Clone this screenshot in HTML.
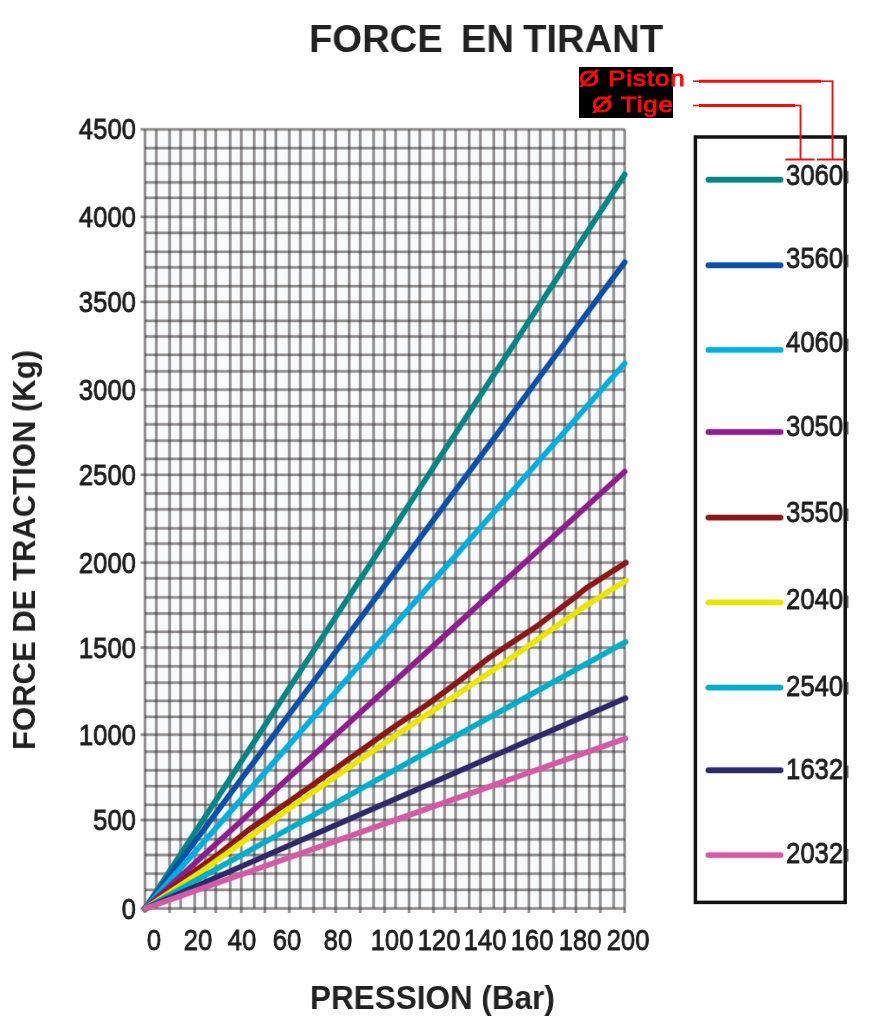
<!DOCTYPE html>
<html><head><meta charset="utf-8">
<style>
html,body{margin:0;padding:0;background:#fff;}
body{width:871px;height:1024px;position:relative;overflow:hidden;font-family:"Liberation Sans",sans-serif;}
.title,.xt,.yt,.yl,.xl,.lt,.tg{will-change:transform;}
.chart{position:absolute;left:0;top:0;}
.title{position:absolute;left:309px;top:17px;font-weight:bold;font-size:39px;line-height:44px;color:#222;white-space:pre;word-spacing:-1.6px;transform:scaleX(0.98);transform-origin:0 0;}
.xt{position:absolute;left:309.5px;top:979px;font-weight:bold;font-size:33.3px;line-height:38px;color:#222;white-space:pre;transform:scaleX(0.945);transform-origin:0 0;}
.yt{position:absolute;left:0;top:0;font-weight:bold;font-size:32px;line-height:36px;color:#222;white-space:pre;transform-origin:0 0;transform:translate(6px,750px) rotate(-90deg) scaleX(0.97);}
.yl{position:absolute;left:36px;width:100px;text-align:right;font-size:29.5px;line-height:32px;color:#1e1e1e;-webkit-text-stroke:0.85px #1e1e1e;transform:scaleX(0.87);transform-origin:100% 50%;}
.xl{position:absolute;top:924px;width:80px;text-align:center;font-size:29.5px;line-height:32px;color:#1e1e1e;-webkit-text-stroke:0.85px #1e1e1e;transform:scaleX(0.87);}
.lt{position:absolute;left:786px;font-size:29.5px;line-height:32px;color:#1e1e1e;-webkit-text-stroke:0.85px #1e1e1e;transform:scaleX(0.87);transform-origin:0 50%;}
.tag{position:absolute;left:579.1px;top:66.8px;width:94px;height:51px;background:#000;}
.tg{position:absolute;color:#f80c0c;font-size:21.5px;line-height:24px;white-space:pre;letter-spacing:0.8px;-webkit-text-stroke:0.9px #f80c0c;transform:scaleX(1.2);transform-origin:0 0;}
</style></head><body>
<svg class="chart" width="871" height="1024" viewBox="0 0 871 1024"><rect x="145" y="129.4" width="479.70000000000005" height="779.1" fill="#f9fafc"/><g><g stroke="rgba(50,42,42,0.17)" stroke-width="3.6"><line x1="145" y1="129.4" x2="145" y2="908.5"/><line x1="156.3" y1="129.4" x2="156.3" y2="908.5"/><line x1="169.6" y1="129.4" x2="169.6" y2="908.5"/><line x1="180.6" y1="129.4" x2="180.6" y2="908.5"/><line x1="194.7" y1="129.4" x2="194.7" y2="908.5"/><line x1="205.4" y1="129.4" x2="205.4" y2="908.5"/><line x1="215.8" y1="129.4" x2="215.8" y2="908.5"/><line x1="230.2" y1="129.4" x2="230.2" y2="908.5"/><line x1="241.3" y1="129.4" x2="241.3" y2="908.5"/><line x1="254.2" y1="129.4" x2="254.2" y2="908.5"/><line x1="264.9" y1="129.4" x2="264.9" y2="908.5"/><line x1="275.9" y1="129.4" x2="275.9" y2="908.5"/><line x1="289.3" y1="129.4" x2="289.3" y2="908.5"/><line x1="300.3" y1="129.4" x2="300.3" y2="908.5"/><line x1="313.7" y1="129.4" x2="313.7" y2="908.5"/><line x1="324.4" y1="129.4" x2="324.4" y2="908.5"/><line x1="335.7" y1="129.4" x2="335.7" y2="908.5"/><line x1="349.2" y1="129.4" x2="349.2" y2="908.5"/><line x1="360.2" y1="129.4" x2="360.2" y2="908.5"/><line x1="373.6" y1="129.4" x2="373.6" y2="908.5"/><line x1="384.6" y1="129.4" x2="384.6" y2="908.5"/><line x1="395.6" y1="129.4" x2="395.6" y2="908.5"/><line x1="409.1" y1="129.4" x2="409.1" y2="908.5"/><line x1="419.8" y1="129.4" x2="419.8" y2="908.5"/><line x1="433.5" y1="129.4" x2="433.5" y2="908.5"/><line x1="444.6" y1="129.4" x2="444.6" y2="908.5"/><line x1="455.6" y1="129.4" x2="455.6" y2="908.5"/><line x1="469.2" y1="129.4" x2="469.2" y2="908.5"/><line x1="480.4" y1="129.4" x2="480.4" y2="908.5"/><line x1="493.8" y1="129.4" x2="493.8" y2="908.5"/><line x1="504.8" y1="129.4" x2="504.8" y2="908.5"/><line x1="515.8" y1="129.4" x2="515.8" y2="908.5"/><line x1="528.9" y1="129.4" x2="528.9" y2="908.5"/><line x1="540.2" y1="129.4" x2="540.2" y2="908.5"/><line x1="553.6" y1="129.4" x2="553.6" y2="908.5"/><line x1="564.7" y1="129.4" x2="564.7" y2="908.5"/><line x1="575.9" y1="129.4" x2="575.9" y2="908.5"/><line x1="589.3" y1="129.4" x2="589.3" y2="908.5"/><line x1="600.3" y1="129.4" x2="600.3" y2="908.5"/><line x1="613.7" y1="129.4" x2="613.7" y2="908.5"/><line x1="624.7" y1="129.4" x2="624.7" y2="908.5"/><line x1="145" y1="908.5" x2="145" y2="913.0"/><line x1="169.6" y1="908.5" x2="169.6" y2="913.0"/><line x1="194.7" y1="908.5" x2="194.7" y2="913.0"/><line x1="215.8" y1="908.5" x2="215.8" y2="913.0"/><line x1="241.3" y1="908.5" x2="241.3" y2="913.0"/><line x1="264.9" y1="908.5" x2="264.9" y2="913.0"/><line x1="289.3" y1="908.5" x2="289.3" y2="913.0"/><line x1="313.7" y1="908.5" x2="313.7" y2="913.0"/><line x1="335.7" y1="908.5" x2="335.7" y2="913.0"/><line x1="360.2" y1="908.5" x2="360.2" y2="913.0"/><line x1="384.6" y1="908.5" x2="384.6" y2="913.0"/><line x1="409.1" y1="908.5" x2="409.1" y2="913.0"/><line x1="433.5" y1="908.5" x2="433.5" y2="913.0"/><line x1="455.6" y1="908.5" x2="455.6" y2="913.0"/><line x1="480.4" y1="908.5" x2="480.4" y2="913.0"/><line x1="504.8" y1="908.5" x2="504.8" y2="913.0"/><line x1="528.9" y1="908.5" x2="528.9" y2="913.0"/><line x1="553.6" y1="908.5" x2="553.6" y2="913.0"/><line x1="575.9" y1="908.5" x2="575.9" y2="913.0"/><line x1="600.3" y1="908.5" x2="600.3" y2="913.0"/><line x1="624.7" y1="908.5" x2="624.7" y2="913.0"/><line x1="145" y1="129.4" x2="624.7" y2="129.4"/><line x1="145" y1="148.1" x2="624.7" y2="148.1"/><line x1="145" y1="163.6" x2="624.7" y2="163.6"/><line x1="145" y1="182.4" x2="624.7" y2="182.4"/><line x1="145" y1="197.8" x2="624.7" y2="197.8"/><line x1="145" y1="216.9" x2="624.7" y2="216.9"/><line x1="145" y1="232.9" x2="624.7" y2="232.9"/><line x1="145" y1="251.8" x2="624.7" y2="251.8"/><line x1="145" y1="267.4" x2="624.7" y2="267.4"/><line x1="145" y1="286.2" x2="624.7" y2="286.2"/><line x1="145" y1="301.9" x2="624.7" y2="301.9"/><line x1="145" y1="320.9" x2="624.7" y2="320.9"/><line x1="145" y1="336.5" x2="624.7" y2="336.5"/><line x1="145" y1="354.8" x2="624.7" y2="354.8"/><line x1="145" y1="371.4" x2="624.7" y2="371.4"/><line x1="145" y1="389.7" x2="624.7" y2="389.7"/><line x1="145" y1="406.2" x2="624.7" y2="406.2"/><line x1="145" y1="424.4" x2="624.7" y2="424.4"/><line x1="145" y1="440.7" x2="624.7" y2="440.7"/><line x1="145" y1="458.9" x2="624.7" y2="458.9"/><line x1="145" y1="474.8" x2="624.7" y2="474.8"/><line x1="145" y1="493.5" x2="624.7" y2="493.5"/><line x1="145" y1="509.4" x2="624.7" y2="509.4"/><line x1="145" y1="528.3" x2="624.7" y2="528.3"/><line x1="145" y1="543.6" x2="624.7" y2="543.6"/><line x1="145" y1="562.6" x2="624.7" y2="562.6"/><line x1="145" y1="578.3" x2="624.7" y2="578.3"/><line x1="145" y1="597.4" x2="624.7" y2="597.4"/><line x1="145" y1="613.5" x2="624.7" y2="613.5"/><line x1="145" y1="631.8" x2="624.7" y2="631.8"/><line x1="145" y1="647.6" x2="624.7" y2="647.6"/><line x1="145" y1="666.4" x2="624.7" y2="666.4"/><line x1="145" y1="682.7" x2="624.7" y2="682.7"/><line x1="145" y1="700.9" x2="624.7" y2="700.9"/><line x1="145" y1="716.8" x2="624.7" y2="716.8"/><line x1="145" y1="734.6" x2="624.7" y2="734.6"/><line x1="145" y1="751.7" x2="624.7" y2="751.7"/><line x1="145" y1="770.3" x2="624.7" y2="770.3"/><line x1="145" y1="786.2" x2="624.7" y2="786.2"/><line x1="145" y1="804.8" x2="624.7" y2="804.8"/><line x1="145" y1="820" x2="624.7" y2="820"/><line x1="145" y1="839.4" x2="624.7" y2="839.4"/><line x1="145" y1="855" x2="624.7" y2="855"/><line x1="145" y1="873.7" x2="624.7" y2="873.7"/><line x1="145" y1="889.9" x2="624.7" y2="889.9"/><line x1="145" y1="908.5" x2="624.7" y2="908.5"/><line x1="140.5" y1="129.4" x2="145" y2="129.4"/><line x1="140.5" y1="216.9" x2="145" y2="216.9"/><line x1="140.5" y1="301.9" x2="145" y2="301.9"/><line x1="140.5" y1="389.7" x2="145" y2="389.7"/><line x1="140.5" y1="474.8" x2="145" y2="474.8"/><line x1="140.5" y1="562.6" x2="145" y2="562.6"/><line x1="140.5" y1="647.6" x2="145" y2="647.6"/><line x1="140.5" y1="734.6" x2="145" y2="734.6"/><line x1="140.5" y1="820" x2="145" y2="820"/><line x1="140.5" y1="908.5" x2="145" y2="908.5"/></g><g stroke="rgba(50,42,42,0.42)" stroke-width="2.3"><line x1="145" y1="129.4" x2="145" y2="908.5"/><line x1="156.3" y1="129.4" x2="156.3" y2="908.5"/><line x1="169.6" y1="129.4" x2="169.6" y2="908.5"/><line x1="180.6" y1="129.4" x2="180.6" y2="908.5"/><line x1="194.7" y1="129.4" x2="194.7" y2="908.5"/><line x1="205.4" y1="129.4" x2="205.4" y2="908.5"/><line x1="215.8" y1="129.4" x2="215.8" y2="908.5"/><line x1="230.2" y1="129.4" x2="230.2" y2="908.5"/><line x1="241.3" y1="129.4" x2="241.3" y2="908.5"/><line x1="254.2" y1="129.4" x2="254.2" y2="908.5"/><line x1="264.9" y1="129.4" x2="264.9" y2="908.5"/><line x1="275.9" y1="129.4" x2="275.9" y2="908.5"/><line x1="289.3" y1="129.4" x2="289.3" y2="908.5"/><line x1="300.3" y1="129.4" x2="300.3" y2="908.5"/><line x1="313.7" y1="129.4" x2="313.7" y2="908.5"/><line x1="324.4" y1="129.4" x2="324.4" y2="908.5"/><line x1="335.7" y1="129.4" x2="335.7" y2="908.5"/><line x1="349.2" y1="129.4" x2="349.2" y2="908.5"/><line x1="360.2" y1="129.4" x2="360.2" y2="908.5"/><line x1="373.6" y1="129.4" x2="373.6" y2="908.5"/><line x1="384.6" y1="129.4" x2="384.6" y2="908.5"/><line x1="395.6" y1="129.4" x2="395.6" y2="908.5"/><line x1="409.1" y1="129.4" x2="409.1" y2="908.5"/><line x1="419.8" y1="129.4" x2="419.8" y2="908.5"/><line x1="433.5" y1="129.4" x2="433.5" y2="908.5"/><line x1="444.6" y1="129.4" x2="444.6" y2="908.5"/><line x1="455.6" y1="129.4" x2="455.6" y2="908.5"/><line x1="469.2" y1="129.4" x2="469.2" y2="908.5"/><line x1="480.4" y1="129.4" x2="480.4" y2="908.5"/><line x1="493.8" y1="129.4" x2="493.8" y2="908.5"/><line x1="504.8" y1="129.4" x2="504.8" y2="908.5"/><line x1="515.8" y1="129.4" x2="515.8" y2="908.5"/><line x1="528.9" y1="129.4" x2="528.9" y2="908.5"/><line x1="540.2" y1="129.4" x2="540.2" y2="908.5"/><line x1="553.6" y1="129.4" x2="553.6" y2="908.5"/><line x1="564.7" y1="129.4" x2="564.7" y2="908.5"/><line x1="575.9" y1="129.4" x2="575.9" y2="908.5"/><line x1="589.3" y1="129.4" x2="589.3" y2="908.5"/><line x1="600.3" y1="129.4" x2="600.3" y2="908.5"/><line x1="613.7" y1="129.4" x2="613.7" y2="908.5"/><line x1="624.7" y1="129.4" x2="624.7" y2="908.5"/><line x1="145" y1="908.5" x2="145" y2="913.0"/><line x1="169.6" y1="908.5" x2="169.6" y2="913.0"/><line x1="194.7" y1="908.5" x2="194.7" y2="913.0"/><line x1="215.8" y1="908.5" x2="215.8" y2="913.0"/><line x1="241.3" y1="908.5" x2="241.3" y2="913.0"/><line x1="264.9" y1="908.5" x2="264.9" y2="913.0"/><line x1="289.3" y1="908.5" x2="289.3" y2="913.0"/><line x1="313.7" y1="908.5" x2="313.7" y2="913.0"/><line x1="335.7" y1="908.5" x2="335.7" y2="913.0"/><line x1="360.2" y1="908.5" x2="360.2" y2="913.0"/><line x1="384.6" y1="908.5" x2="384.6" y2="913.0"/><line x1="409.1" y1="908.5" x2="409.1" y2="913.0"/><line x1="433.5" y1="908.5" x2="433.5" y2="913.0"/><line x1="455.6" y1="908.5" x2="455.6" y2="913.0"/><line x1="480.4" y1="908.5" x2="480.4" y2="913.0"/><line x1="504.8" y1="908.5" x2="504.8" y2="913.0"/><line x1="528.9" y1="908.5" x2="528.9" y2="913.0"/><line x1="553.6" y1="908.5" x2="553.6" y2="913.0"/><line x1="575.9" y1="908.5" x2="575.9" y2="913.0"/><line x1="600.3" y1="908.5" x2="600.3" y2="913.0"/><line x1="624.7" y1="908.5" x2="624.7" y2="913.0"/><line x1="145" y1="129.4" x2="624.7" y2="129.4"/><line x1="145" y1="148.1" x2="624.7" y2="148.1"/><line x1="145" y1="163.6" x2="624.7" y2="163.6"/><line x1="145" y1="182.4" x2="624.7" y2="182.4"/><line x1="145" y1="197.8" x2="624.7" y2="197.8"/><line x1="145" y1="216.9" x2="624.7" y2="216.9"/><line x1="145" y1="232.9" x2="624.7" y2="232.9"/><line x1="145" y1="251.8" x2="624.7" y2="251.8"/><line x1="145" y1="267.4" x2="624.7" y2="267.4"/><line x1="145" y1="286.2" x2="624.7" y2="286.2"/><line x1="145" y1="301.9" x2="624.7" y2="301.9"/><line x1="145" y1="320.9" x2="624.7" y2="320.9"/><line x1="145" y1="336.5" x2="624.7" y2="336.5"/><line x1="145" y1="354.8" x2="624.7" y2="354.8"/><line x1="145" y1="371.4" x2="624.7" y2="371.4"/><line x1="145" y1="389.7" x2="624.7" y2="389.7"/><line x1="145" y1="406.2" x2="624.7" y2="406.2"/><line x1="145" y1="424.4" x2="624.7" y2="424.4"/><line x1="145" y1="440.7" x2="624.7" y2="440.7"/><line x1="145" y1="458.9" x2="624.7" y2="458.9"/><line x1="145" y1="474.8" x2="624.7" y2="474.8"/><line x1="145" y1="493.5" x2="624.7" y2="493.5"/><line x1="145" y1="509.4" x2="624.7" y2="509.4"/><line x1="145" y1="528.3" x2="624.7" y2="528.3"/><line x1="145" y1="543.6" x2="624.7" y2="543.6"/><line x1="145" y1="562.6" x2="624.7" y2="562.6"/><line x1="145" y1="578.3" x2="624.7" y2="578.3"/><line x1="145" y1="597.4" x2="624.7" y2="597.4"/><line x1="145" y1="613.5" x2="624.7" y2="613.5"/><line x1="145" y1="631.8" x2="624.7" y2="631.8"/><line x1="145" y1="647.6" x2="624.7" y2="647.6"/><line x1="145" y1="666.4" x2="624.7" y2="666.4"/><line x1="145" y1="682.7" x2="624.7" y2="682.7"/><line x1="145" y1="700.9" x2="624.7" y2="700.9"/><line x1="145" y1="716.8" x2="624.7" y2="716.8"/><line x1="145" y1="734.6" x2="624.7" y2="734.6"/><line x1="145" y1="751.7" x2="624.7" y2="751.7"/><line x1="145" y1="770.3" x2="624.7" y2="770.3"/><line x1="145" y1="786.2" x2="624.7" y2="786.2"/><line x1="145" y1="804.8" x2="624.7" y2="804.8"/><line x1="145" y1="820" x2="624.7" y2="820"/><line x1="145" y1="839.4" x2="624.7" y2="839.4"/><line x1="145" y1="855" x2="624.7" y2="855"/><line x1="145" y1="873.7" x2="624.7" y2="873.7"/><line x1="145" y1="889.9" x2="624.7" y2="889.9"/><line x1="145" y1="908.5" x2="624.7" y2="908.5"/><line x1="140.5" y1="129.4" x2="145" y2="129.4"/><line x1="140.5" y1="216.9" x2="145" y2="216.9"/><line x1="140.5" y1="301.9" x2="145" y2="301.9"/><line x1="140.5" y1="389.7" x2="145" y2="389.7"/><line x1="140.5" y1="474.8" x2="145" y2="474.8"/><line x1="140.5" y1="562.6" x2="145" y2="562.6"/><line x1="140.5" y1="647.6" x2="145" y2="647.6"/><line x1="140.5" y1="734.6" x2="145" y2="734.6"/><line x1="140.5" y1="820" x2="145" y2="820"/><line x1="140.5" y1="908.5" x2="145" y2="908.5"/></g><g fill="none" stroke-width="5.2" stroke-linecap="round" stroke-linejoin="round"><path d="M145.2,908.5 L624.7,174.5" stroke="#078484" stroke-width="6.8" stroke-opacity="0.28"/><path d="M145.2,908.5 L624.7,174.5" stroke="#078484"/><path d="M145.2,908.5 L624.7,262.2" stroke="#0b50a8" stroke-width="6.8" stroke-opacity="0.28"/><path d="M145.2,908.5 L624.7,262.2" stroke="#0b50a8"/><path d="M145.2,908.5 L624.7,363.4" stroke="#02aee0" stroke-width="6.8" stroke-opacity="0.28"/><path d="M145.2,908.5 L624.7,363.4" stroke="#02aee0"/><path d="M145.2,908.5 L624.7,471.6" stroke="#8d1e8e" stroke-width="6.8" stroke-opacity="0.28"/><path d="M145.2,908.5 L624.7,471.6" stroke="#8d1e8e"/><path d="M145.2,908.5 L181.7,880.4 L218.5,854.2 L247.9,830.5 L300,793.8 L340.4,765.2 L391.8,728.4 L428.6,703.6 L460,680.3 L489.3,657.6 L538.1,625.3 L577.1,595.6 L586.9,587.6 L625.9,562.7" stroke="#8c1717" stroke-width="6.8" stroke-opacity="0.28"/><path d="M145.2,908.5 L181.7,880.4 L218.5,854.2 L247.9,830.5 L300,793.8 L340.4,765.2 L391.8,728.4 L428.6,703.6 L460,680.3 L489.3,657.6 L538.1,625.3 L577.1,595.6 L586.9,587.6 L625.9,562.7" stroke="#8c1717"/><path d="M145.2,908.5 L200.1,872.5 L300,801 L395.5,735.5 L460,692.5 L518.5,652.8 L581,608.8 L625.9,580.6" stroke="#e8e602" stroke-width="6.8" stroke-opacity="0.28"/><path d="M145.2,908.5 L200.1,872.5 L300,801 L395.5,735.5 L460,692.5 L518.5,652.8 L581,608.8 L625.9,580.6" stroke="#e8e602"/><path d="M145.2,908.5 L625.5,642" stroke="#02adca" stroke-width="6.8" stroke-opacity="0.28"/><path d="M145.2,908.5 L625.5,642" stroke="#02adca"/><path d="M145.2,908.5 L625.5,698.2" stroke="#2e2a6a" stroke-width="6.8" stroke-opacity="0.28"/><path d="M145.2,908.5 L625.5,698.2" stroke="#2e2a6a"/><path d="M145.2,908.5 L625.5,738.5" stroke="#d35aa4" stroke-width="6.8" stroke-opacity="0.28"/><path d="M145.2,908.5 L625.5,738.5" stroke="#d35aa4"/></g></g><rect x="695.4" y="137" width="149.8" height="765.4" fill="#fff"/><line x1="708.5" y1="179.8" x2="780.5" y2="179.8" stroke="#078484" stroke-width="7" stroke-opacity="0.3" stroke-linecap="round"/><line x1="708.5" y1="179.8" x2="780.5" y2="179.8" stroke="#078484" stroke-width="5.4" stroke-linecap="round"/><line x1="708.5" y1="265.2" x2="780.5" y2="265.2" stroke="#0b50a8" stroke-width="7" stroke-opacity="0.3" stroke-linecap="round"/><line x1="708.5" y1="265.2" x2="780.5" y2="265.2" stroke="#0b50a8" stroke-width="5.4" stroke-linecap="round"/><line x1="708.5" y1="349.9" x2="780.5" y2="349.9" stroke="#02aee0" stroke-width="7" stroke-opacity="0.3" stroke-linecap="round"/><line x1="708.5" y1="349.9" x2="780.5" y2="349.9" stroke="#02aee0" stroke-width="5.4" stroke-linecap="round"/><line x1="708.5" y1="432" x2="780.5" y2="432" stroke="#8d1e8e" stroke-width="7" stroke-opacity="0.3" stroke-linecap="round"/><line x1="708.5" y1="432" x2="780.5" y2="432" stroke="#8d1e8e" stroke-width="5.4" stroke-linecap="round"/><line x1="708.5" y1="517.6" x2="780.5" y2="517.6" stroke="#8c1717" stroke-width="7" stroke-opacity="0.3" stroke-linecap="round"/><line x1="708.5" y1="517.6" x2="780.5" y2="517.6" stroke="#8c1717" stroke-width="5.4" stroke-linecap="round"/><line x1="708.5" y1="602.4" x2="780.5" y2="602.4" stroke="#e8e602" stroke-width="7" stroke-opacity="0.3" stroke-linecap="round"/><line x1="708.5" y1="602.4" x2="780.5" y2="602.4" stroke="#e8e602" stroke-width="5.4" stroke-linecap="round"/><line x1="708.5" y1="687.6" x2="780.5" y2="687.6" stroke="#02adca" stroke-width="7" stroke-opacity="0.3" stroke-linecap="round"/><line x1="708.5" y1="687.6" x2="780.5" y2="687.6" stroke="#02adca" stroke-width="5.4" stroke-linecap="round"/><line x1="708.5" y1="770.2" x2="780.5" y2="770.2" stroke="#2e2a6a" stroke-width="7" stroke-opacity="0.3" stroke-linecap="round"/><line x1="708.5" y1="770.2" x2="780.5" y2="770.2" stroke="#2e2a6a" stroke-width="5.4" stroke-linecap="round"/><line x1="708.5" y1="855.1" x2="780.5" y2="855.1" stroke="#d35aa4" stroke-width="7" stroke-opacity="0.3" stroke-linecap="round"/><line x1="708.5" y1="855.1" x2="780.5" y2="855.1" stroke="#d35aa4" stroke-width="5.4" stroke-linecap="round"/></svg>
<div class="title">FORCE  EN TIRANT</div>
<div class="xt">PRESSION (Bar)</div>
<div class="yt">FORCE DE TRACTION (Kg)</div>
<div class="yl" style="top:113.4px">4500</div><div class="yl" style="top:200.9px">4000</div><div class="yl" style="top:285.9px">3500</div><div class="yl" style="top:373.7px">3000</div><div class="yl" style="top:458.8px">2500</div><div class="yl" style="top:546.6px">2000</div><div class="yl" style="top:631.6px">1500</div><div class="yl" style="top:718.6px">1000</div><div class="yl" style="top:804.0px">500</div><div class="yl" style="top:892.5px">0</div><div class="xl" style="left:114.2px">0</div><div class="xl" style="left:157.5px">20</div><div class="xl" style="left:202.0px">40</div><div class="xl" style="left:246.7px">60</div><div class="xl" style="left:297.7px">80</div><div class="xl" style="left:351.9px">100</div><div class="xl" style="left:399.3px">120</div><div class="xl" style="left:444.9px">140</div><div class="xl" style="left:492.3px">160</div><div class="xl" style="left:539.6px">180</div><div class="xl" style="left:587.5px">200</div><div class="lt" style="top:158.8px">3060</div><div class="lt" style="top:242.4px">3560</div><div class="lt" style="top:326.4px">4060</div><div class="lt" style="top:409.6px">3050</div><div class="lt" style="top:496.3px">3550</div><div class="lt" style="top:583.3px">2040</div><div class="lt" style="top:669.7px">2540</div><div class="lt" style="top:753.3px">1632</div><div class="lt" style="top:836.8px">2032</div>
<svg class="chart" width="871" height="1024" viewBox="0 0 871 1024"><rect x="695.4" y="137" width="149.8" height="765.4" fill="none" stroke="#111" stroke-width="3.5"/><rect x="847" y="170.8" width="1.5" height="13" rx="0.7" fill="#666"/><rect x="847" y="254.4" width="1.5" height="13" rx="0.7" fill="#666"/><rect x="847" y="338.4" width="1.5" height="13" rx="0.7" fill="#666"/><rect x="847" y="421.6" width="1.5" height="13" rx="0.7" fill="#666"/><rect x="847" y="508.3" width="1.5" height="13" rx="0.7" fill="#666"/><rect x="847" y="595.3" width="1.5" height="13" rx="0.7" fill="#666"/><rect x="847" y="681.7" width="1.5" height="13" rx="0.7" fill="#666"/><rect x="847" y="765.3" width="1.5" height="13" rx="0.7" fill="#666"/><rect x="847" y="848.8" width="1.5" height="13" rx="0.7" fill="#666"/><g stroke="#f40c0c" fill="none"><line x1="693" y1="81.2" x2="700" y2="81.2" stroke-width="1.6"/><line x1="699" y1="81.2" x2="821" y2="81.2" stroke-width="3"/><line x1="820" y1="81.2" x2="833" y2="81.2" stroke-width="1.6"/><line x1="832.5" y1="80.5" x2="832.5" y2="159.5" stroke-width="1.8"/><line x1="693" y1="105.5" x2="700" y2="105.5" stroke-width="1.6"/><line x1="699" y1="105.5" x2="795" y2="105.5" stroke-width="3"/><line x1="794" y1="105.5" x2="801" y2="105.5" stroke-width="1.6"/><line x1="800.5" y1="105" x2="800.5" y2="159.5" stroke-width="1.8"/><line x1="785.5" y1="159.5" x2="814.5" y2="159.5" stroke-width="2"/><line x1="817" y1="159.5" x2="846" y2="159.5" stroke-width="2"/></g></svg>
<div class="tag"></div>
<div class="tg" style="left:579px;top:66.5px">Ø Piston</div>
<div class="tg" style="left:592px;top:92.5px">Ø Tige</div>
</body></html>
